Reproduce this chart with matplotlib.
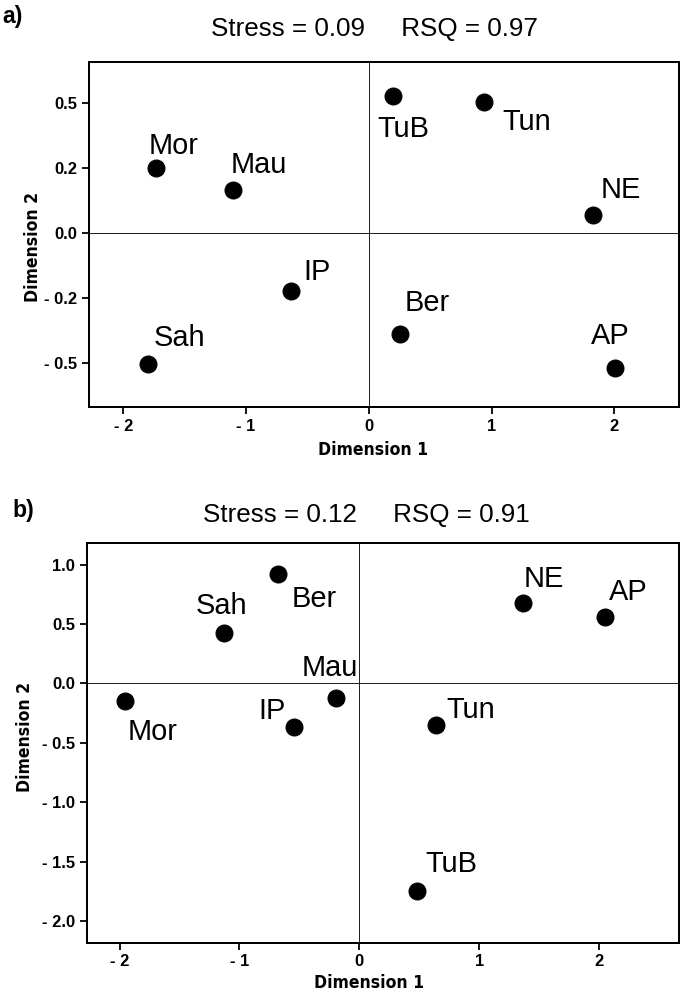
import matplotlib
matplotlib.use('Agg')
import matplotlib.pyplot as plt
from matplotlib import font_manager as fm

plt.rcParams['font.family'] = ['Liberation Sans', 'DejaVu Sans']

# ---- data ----
labels_a = ['Mor', 'Mau', 'IP', 'Sah', 'TuB', 'Tun', 'NE', 'Ber', 'AP']
dim1_a = [-1.735, -1.110, -0.637, -1.800, 0.199, 0.936, 1.826, 0.253, 2.010]
dim2_a = [0.253, 0.167, -0.222, -0.503, 0.528, 0.504, 0.070, -0.388, -0.519]

labels_b = ['Ber', 'Sah', 'Mau', 'Mor', 'IP', 'NE', 'AP', 'Tun', 'TuB']
dim1_b = [-0.676, -1.130, -0.193, -1.954, -0.545, 1.369, 2.049, 0.643, 0.479]
dim2_b = [0.925, 0.422, -0.121, -0.150, -0.365, 0.679, 0.556, -0.351, -1.749]

title_a = 'Stress = 0.09     RSQ = 0.97'
title_b = 'Stress = 0.12     RSQ = 0.91'
panel_a = 'a)'
panel_b = 'b)'

xticks = [-2, -1, 0, 1, 2]
xticklabels = ['- 2', '- 1', '0', '1', '2']
yticks_a = [-0.5, -0.25, 0, 0.25, 0.5]
yticklabels_a = ['- 0.5', '- 0.2', '0.0', '0.2', '0.5']
yticks_b = [-2.0, -1.5, -1.0, -0.5, 0.0, 0.5, 1.0]
yticklabels_b = ['- 2.0', '- 1.5', '- 1.0', '- 0.5', '0.0', '0.5', '1.0']
xlabel = 'Dimension 1'
ylabel = 'Dimension 2'

# ---- find a condensed bold face for the axis titles, if installed ----
cond = None
for f in fm.fontManager.ttflist:
    nm = f.name.lower()
    if ('narrow' in nm or 'condensed' in nm or str(f.stretch).endswith('condensed')) \
            and (f.weight in ('bold', 700) or str(f.weight) == '700'):
        cond = f.fname
        break
if cond:
    axis_fp = fm.FontProperties(fname=cond, size=17.5)
else:
    axis_fp = fm.FontProperties(family='Liberation Sans', weight='bold', size=15)

# ---- layout (pixels) ----
W, H = 685, 993
fig = plt.figure(figsize=(W / 72, H / 72), dpi=72)


def box(l, t, r, b):
    return [l / W, 1 - b / H, (r - l) / W, (b - t) / H]


# label offsets in px (dx right, dy up) relative to point, text left/baseline anchored
off_a = {'Mor': (-7, 14), 'Mau': (-2, 17), 'IP': (13, 11), 'Sah': (6, 18),
         'TuB': (-16, -41), 'Tun': (19, -28), 'NE': (8, 17), 'Ber': (5, 23),
         'AP': (-25, 24)}
off_b = {'Ber': (13.5, -33), 'Sah': (-28, 19), 'Mau': (-35, 22), 'Mor': (2, -39),
         'IP': (-36, 8), 'NE': (0, 16), 'AP': (4, 17), 'Tun': (10, 7),
         'TuB': (9, 19)}


def draw(ax, xs, ys, names, offs, xlim, ylim, yt, ytl, xlab_pos, ylab_pos):
    ax.axhline(0, color='#222222', lw=1.0, zorder=1)
    ax.axvline(0, color='#222222', lw=1.0, zorder=1)
    ax.plot(xs, ys, 'o', color='black', markersize=17, zorder=3)
    for x, y, n in zip(xs, ys, names):
        dx, dy = offs[n]
        ax.annotate(n, (x, y), xytext=(dx, dy), textcoords='offset points',
                    ha='left', va='baseline', fontsize=29, color='black')
    ax.set_xlim(*xlim)
    ax.set_ylim(*ylim)
    ax.set_xticks(xticks)
    ax.set_xticklabels(xticklabels)
    ax.set_yticks(yt)
    ax.set_yticklabels(ytl)
    for s in ax.spines.values():
        s.set_linewidth(2.0)
    ax.tick_params(direction='out', length=7, width=1.8, labelsize=16.5, pad=5)
    for t in ax.get_xticklabels() + ax.get_yticklabels():
        t.set_fontweight('bold')
    ax.set_xlabel(xlabel, fontproperties=axis_fp)
    ax.set_ylabel(ylabel, fontproperties=axis_fp)
    ax.xaxis.set_label_coords(*xlab_pos)
    ax.yaxis.set_label_coords(*ylab_pos)


ax_a = fig.add_axes(box(89, 61.7, 679.3, 407.3))
draw(ax_a, dim1_a, dim2_a, labels_a, off_a, (-2.28, 2.53), (-0.669, 0.66),
     yticks_a, yticklabels_a, (0.481, -0.0975), (-0.080, 0.464))

ax_b = fig.add_axes(box(87.3, 543.3, 679.3, 942.5))
draw(ax_b, dim1_b, dim2_b, labels_b, off_b, (-2.27, 2.67), (-2.18, 1.18),
     yticks_b, yticklabels_b, (0.476, -0.080), (-0.090, 0.515))

fig.text(374 / W, 1 - 36 / H, title_a, ha='center', va='baseline', fontsize=26)
fig.text(366 / W, 1 - 522 / H, title_b, ha='center', va='baseline', fontsize=26)
fig.text(2 / W, 1 - 23 / H, panel_a, ha='left', va='baseline', fontsize=23, fontweight='bold')
fig.text(12 / W, 1 - 517 / H, panel_b, ha='left', va='baseline', fontsize=23, fontweight='bold')

fig.savefig('out.png', dpi=72, facecolor='white')
